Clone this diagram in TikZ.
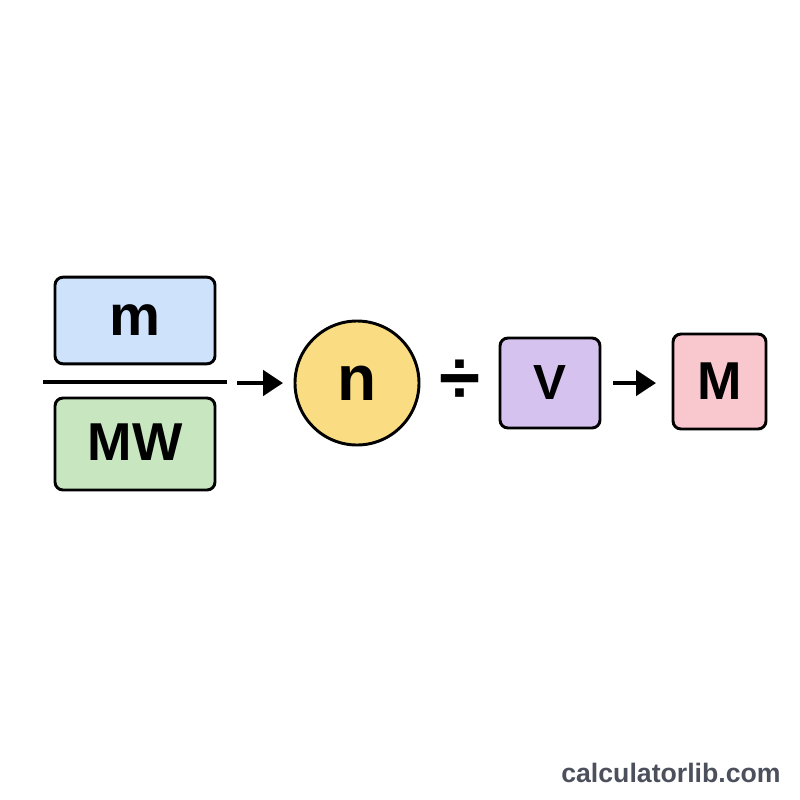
\documentclass[tikz,border=0pt]{standalone}
\usepackage{fontspec}
\setmainfont{Liberation Sans}
\usetikzlibrary{arrows.meta}
\definecolor{cblue}{HTML}{CFE2FB}
\definecolor{cgreen}{HTML}{C8E6C0}
\definecolor{cyellow}{HTML}{FADC82}
\definecolor{cpurple}{HTML}{D6C2EF}
\definecolor{cpink}{HTML}{F9C8CE}
\definecolor{cgrey}{HTML}{4B505C}
\tikzset{
  box/.style={draw=black, line width=2.2pt, rounded corners=6pt, inner sep=0pt, font=\bfseries},
  flow/.style={line width=3pt, -{Triangle[length=15pt,width=19pt]}},
}
\begin{document}
\begin{tikzpicture}[x=0.75pt,y=-0.75pt]
\useasboundingbox (0,0) rectangle (800,800);
\fill[white] (0,0) rectangle (800,800);
\node[box, fill=cblue, minimum width=120pt, minimum height=65pt, font=\bfseries\fontsize{43}{43}\selectfont] (m) at (135,320.5) {m};
\node[box, fill=cgreen, minimum width=120pt, minimum height=69pt, font=\bfseries\fontsize{40}{40}\selectfont] (mw) at (135,444) {\raisebox{3pt}{MW}};
\coordinate (fl) at (43,382);
\coordinate (fr) at (227,382);
\draw[line width=3pt] (fl) -- (fr);
\node[draw=black, line width=2.2pt, circle, fill=cyellow, minimum size=93pt, inner sep=0pt, font=\bfseries\fontsize{48}{48}\selectfont] (n) at (357,383) {n};
\coordinate (a1s) at (237,383);
\coordinate (a1e) at (283,383);
\draw[flow] (a1s) -- (a1e);
\node[font=\bfseries\fontsize{56}{56}\selectfont, inner sep=0pt] (div) at (460,382) {÷};
\node[box, fill=cpurple, minimum width=75pt, minimum height=67.5pt, font=\bfseries\fontsize{37}{37}\selectfont] (v) at (550,383) {V};
\node[box, fill=cpink, minimum width=69.75pt, minimum height=71.25pt, font=\bfseries\fontsize{40}{40}\selectfont] (M) at (719.5,381.5) {M};
\coordinate (a2s) at (613,383);
\coordinate (a2e) at (656,383);
\draw[flow] (a2s) -- (a2e);
\node[text=cgrey, font=\bfseries\fontsize{20}{20}\selectfont] (url) at (671,773) {calculatorlib.com};
\end{tikzpicture}
\end{document}
